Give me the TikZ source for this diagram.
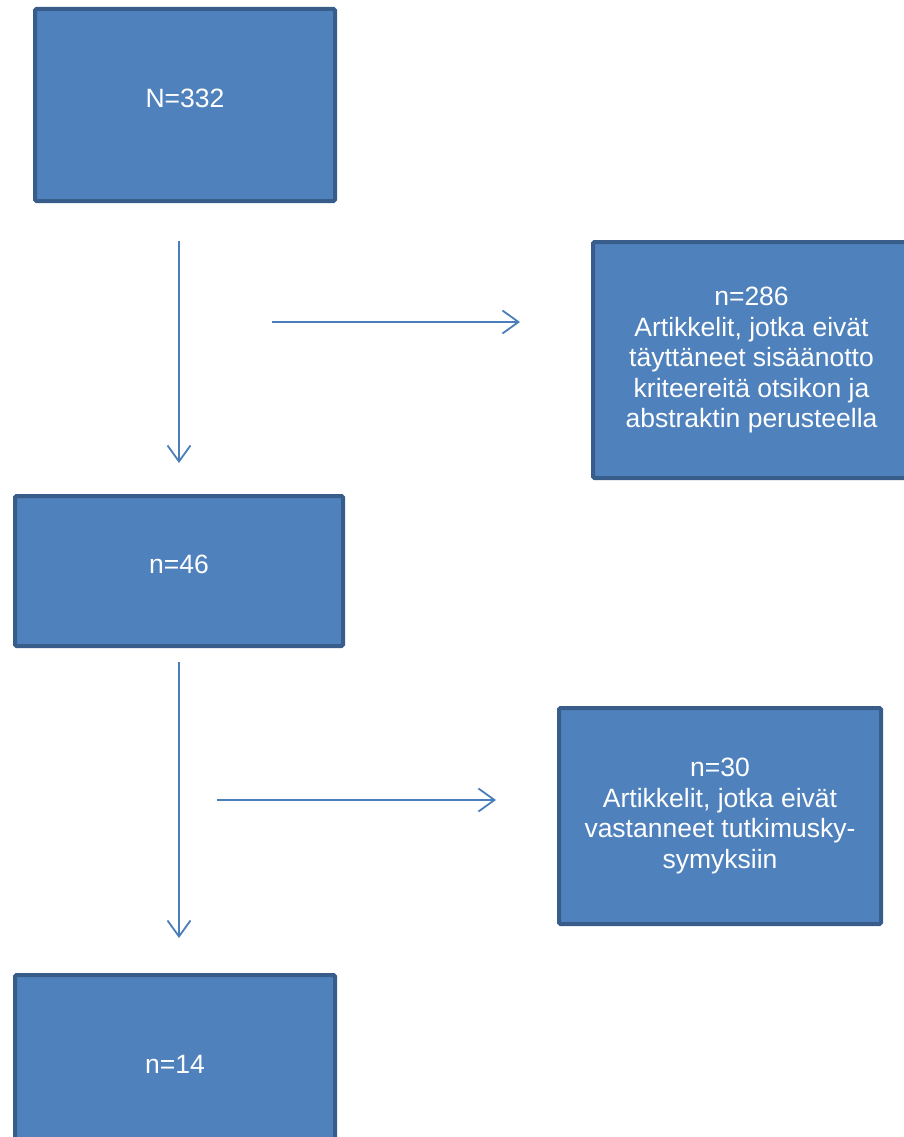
\documentclass[tikz,border=0pt]{standalone}
\usepackage{fontspec}
\setmainfont{Liberation Sans}
\usetikzlibrary{arrows.meta}
\definecolor{boxfill}{HTML}{4F81BD}
\definecolor{boxline}{HTML}{385D8A}
\definecolor{arrowc}{HTML}{4A7EBB}
\begin{document}
\begin{tikzpicture}[x=1pt,y=-1pt,
  box/.style={draw=boxline, fill=boxfill, line width=4pt, rounded corners=1.5pt,
    text=white, font=\fontsize{26.5}{30.5}\selectfont, align=center, inner sep=0pt},
  boxlabel/.style={text=white, font=\fontsize{26.5}{30.5}\selectfont, yshift=7pt},
  flow/.style={draw=arrowc, line width=1.8pt,
    -{Straight Barb[length=16pt,width=23pt,line width=1.8pt]}}]
\useasboundingbox (0,0) rectangle (904,1137);
\clip (0,0) rectangle (904,1137);

\node[box, minimum width=300pt, minimum height=192pt,
  label={[boxlabel]center:N=332}] (b1) at (185,105) {};
\node[box, minimum width=317pt, minimum height=236pt] (b2) at (751.5,360)
  {n=286\\Artikkelit, jotka eivät\\täyttäneet sisäänotto\\kriteereitä otsikon ja\\abstraktin perusteella};
\node[box, minimum width=328pt, minimum height=150pt,
  label={[boxlabel]center:n=46}] (b3) at (179,571) {};
\node[box, minimum width=322pt, minimum height=216pt] (b4) at (720,816)
  {n=30\\Artikkelit, jotka eivät\\vastanneet tutkimusky-\\symyksiin};
\node[box, minimum width=320pt, minimum height=192pt,
  label={[boxlabel]center:n=14}] (b5) at (175,1071) {};

\coordinate (v1s) at (179,241);
\coordinate (v1e) at (179,463);
\coordinate (h1s) at (272,322);
\coordinate (h1e) at (520,322);
\coordinate (v2s) at (179,662);
\coordinate (v2e) at (179,938);
\coordinate (h2s) at (217,800);
\coordinate (h2e) at (496,800);

\draw[flow] (v1s) -- (v1e);
\draw[flow] (h1s) -- (h1e);
\draw[flow] (v2s) -- (v2e);
\draw[flow] (h2s) -- (h2e);
\end{tikzpicture}
\end{document}
